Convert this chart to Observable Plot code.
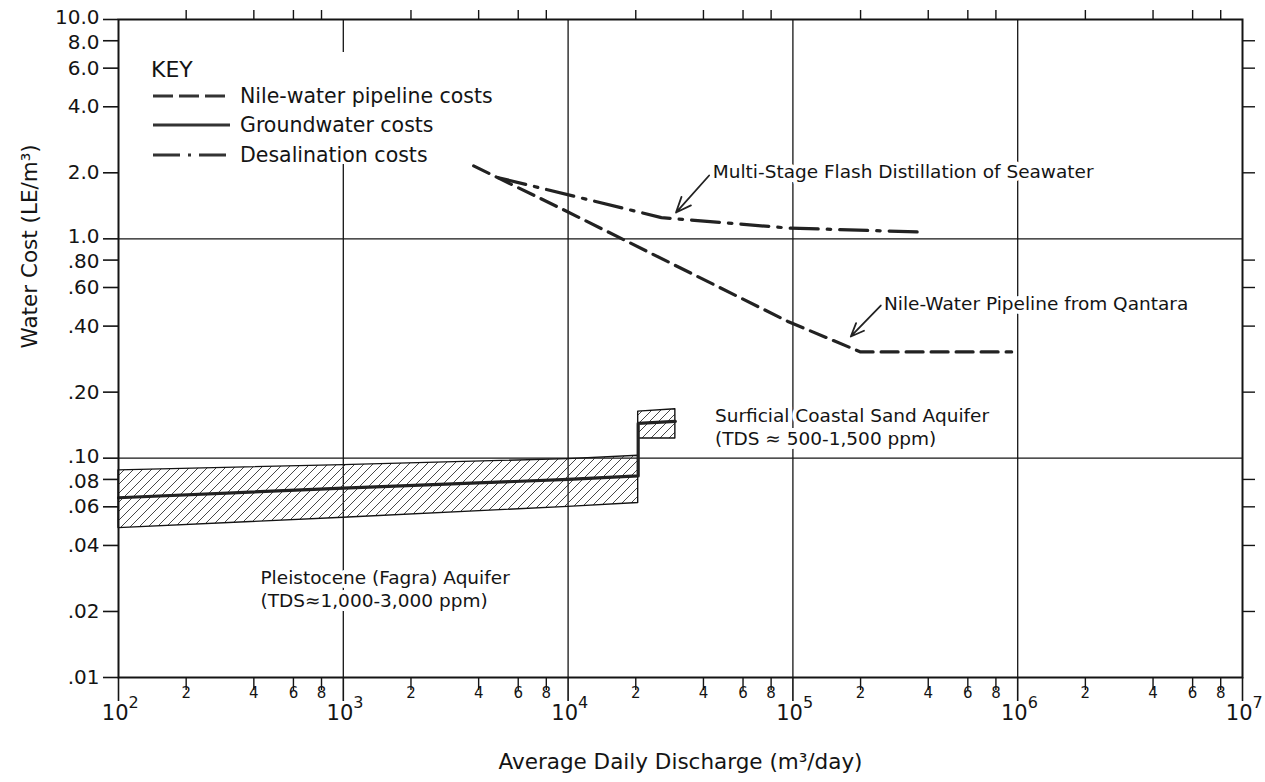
<!DOCTYPE html>
<html>
<head>
<meta charset="utf-8">
<script src="https://cdn.jsdelivr.net/npm/d3@7"></script>
<script src="https://cdn.jsdelivr.net/npm/@observablehq/plot@0.6"></script>
<style>
  html, body { margin: 0; padding: 0; background: #fff; }
  #wrap { position: relative; width: 1265px; height: 782px; font-family: "DejaVu Sans", sans-serif; }
</style>
</head>
<body>
<div id="wrap"></div>
<script>
// ---------- data ----------
const xDecades = [2, 3, 4, 5, 6, 7];              // 10^2 ... 10^7
const minorDigits = [2, 4, 6, 8];
const gridX = [1e3, 1e4, 1e5, 1e6];
const gridY = [1, 0.1];

const yTickValues = [10, 8, 6, 4, 2, 1, 0.8, 0.6, 0.4, 0.2, 0.1, 0.08, 0.06, 0.04, 0.02, 0.01];
const yTickLabels = ["10.0", "8.0", "6.0", "4.0", "2.0", "1.0", ".80", ".60", ".40", ".20", ".10", ".08", ".06", ".04", ".02", ".01"];

// Nile-water pipeline costs (dashed)
const nileX = [3800, 9500, 95000, 200000, 940000];
const nileY = [2.15, 1.36, 0.42, 0.305, 0.305];

// Desalination costs (dash-dot)
const desalX = [4900, 26000, 95000, 360000];
const desalY = [1.90, 1.25, 1.12, 1.075];

// Groundwater: Pleistocene (Fagra) aquifer band
const pleistoX = [100, 1000, 10000, 20500];
const pleistoLow = [0.048, 0.0535, 0.060, 0.0625];
const pleistoMid = [0.066, 0.073, 0.080, 0.083];
const pleistoHigh = [0.088, 0.093, 0.099, 0.1025];

// Groundwater: Surficial coastal sand aquifer band
const surfX = [20500, 30000];
const surfLow = [0.123, 0.123];
const surfMid = [0.144, 0.147];
const surfHigh = [0.163, 0.167];

// Annotations (data units)
const annoText = [
  "Multi-Stage Flash Distillation of Seawater",
  "Nile-Water Pipeline from Qantara",
  "Surficial Coastal Sand Aquifer\n(TDS \u2248 500-1,500 ppm)",
  "Pleistocene (Fagra) Aquifer\n(TDS\u22481,000-3,000 ppm)"
];
const annoX = [4.4e4, 2.54e5, 4.5e4, 428];
const annoY = [2.05, 0.513, 0.1394, 0.02546];

const arrowFrom = [[4.24e4, 1.944], [2.46e5, 0.4966]];
const arrowTo = [[3.02e4, 1.318], [1.81e5, 0.3587]];

const legendTitle = "KEY";
const legendLabels = ["Nile-water pipeline costs", "Groundwater costs", "Desalination costs"];

const xLabel = "Average Daily Discharge (m\u00B3/day)";
const yLabel = "Water Cost (LE/m\u00B3)";

// ---------- derived tables ----------
const nile = nileX.map((x, i) => ({x, y: nileY[i]}));
const desal = desalX.map((x, i) => ({x, y: desalY[i]}));
const pleisto = pleistoX.map((x, i) => ({x, lo: pleistoLow[i], hi: pleistoHigh[i]}));
const surf = surfX.map((x, i) => ({x, lo: surfLow[i], hi: surfHigh[i]}));
const groundMid = [
  ...pleistoX.map((x, i) => ({x, y: pleistoMid[i]})),
  ...surfX.map((x, i) => ({x, y: surfMid[i]}))
];
const annos = annoText.map((t, i) => ({text: t, x: annoX[i], y: annoY[i]}));
const arrows = arrowFrom.map((f, i) => ({x1: f[0], y1: f[1], x2: arrowTo[i][0], y2: arrowTo[i][1]}));

const yTicks = yTickValues.map((v, i) => ({v, label: yTickLabels[i]}));
const isTopOfDecade = v => [10, 1, 0.1].includes(v);
const isBelowDecade = v => [8, 0.8, 0.08].includes(v);
const yMinor = yTickValues.filter(v => ![10, 1, 0.1, 0.01].includes(v));
const minorTicks = xDecades.slice(0, -1).flatMap(e => minorDigits.map(d => ({v: d * 10 ** e, d: String(d)})));
const minorX = minorTicks.map(t => t.v);
const decades = xDecades.map(e => ({v: 10 ** e, e: String(e)}));

const ink = "#141414";
const font = '"DejaVu Sans", sans-serif';
const yLabelStyle = {y: "v", text: "label", frameAnchor: "left", dx: -19, textAnchor: "end", fontSize: 20, fill: ink};

const plot = Plot.plot({
  width: 1265,
  height: 782,
  marginLeft: 118,
  marginRight: 23,
  marginTop: 19,
  marginBottom: 105,
  style: {fontFamily: font, color: ink, background: "#fff"},
  x: {type: "log", domain: [1e2, 1e7], axis: null, label: null},
  y: {type: "log", domain: [0.01, 10], axis: null, label: null},
  marks: [
    Plot.ruleX(gridX, {stroke: ink, strokeWidth: 1.3}),
    Plot.ruleY(gridY, {stroke: ink, strokeWidth: 1.3}),
    Plot.areaY(pleisto, {x: "x", y1: "lo", y2: "hi", fill: "url(#hatch)", stroke: ink, strokeWidth: 1.4}),
    Plot.areaY(surf, {x: "x", y1: "lo", y2: "hi", fill: "url(#hatch)", stroke: ink, strokeWidth: 1.4}),
    Plot.line(groundMid, {x: "x", y: "y", stroke: "#222", strokeWidth: 3.2}),
    Plot.line(nile, {x: "x", y: "y", stroke: "#222", strokeWidth: 3.2, strokeDasharray: "17,8"}),
    Plot.line(desal, {x: "x", y: "y", stroke: "#222", strokeWidth: 3.2, strokeDasharray: "28,9,3.5,9"}),
    Plot.frame({stroke: ink, strokeWidth: 2}),
    // ticks
    Plot.axisY({ticks: yTickValues, tickSize: 15, tickFormat: () => "", strokeWidth: 1.6}),
    Plot.axisY({anchor: "right", ticks: yMinor, tickSize: 12, tickFormat: () => "", strokeWidth: 1.4}),
    Plot.axisX({anchor: "top", ticks: minorX, tickSize: 10, tickFormat: () => "", strokeWidth: 1.4}),
    Plot.axisX({anchor: "bottom", ticks: minorX, tickSize: 13, tickFormat: () => "", strokeWidth: 1.4}),
    Plot.axisX({anchor: "bottom", ticks: decades.map(d => d.v), tickSize: 24, tickFormat: () => "", strokeWidth: 1.6}),
    // tick labels (closely spaced pairs nudged apart slightly)
    Plot.text(yTicks.filter(t => isTopOfDecade(t.v)), {...yLabelStyle, dy: -2}),
    Plot.text(yTicks.filter(t => isBelowDecade(t.v)), {...yLabelStyle, dy: 2}),
    Plot.text(yTicks.filter(t => !isTopOfDecade(t.v) && !isBelowDecade(t.v)), yLabelStyle),
    Plot.text(minorTicks, {x: "v", frameAnchor: "bottom", text: "d", dy: 20, fontSize: 15, fill: ink}),
    Plot.text(decades, {x: "v", frameAnchor: "bottom", text: () => "10", textAnchor: "end", dx: 10, dy: 42, fontSize: 21, fill: ink}),
    Plot.text(decades, {x: "v", frameAnchor: "bottom", text: "e", textAnchor: "start", dx: 10, dy: 30, fontSize: 16, fill: ink}),
    // annotations
    Plot.text(annos, {x: "x", y: "y", text: "text", textAnchor: "start", lineAnchor: "middle", fontSize: 18.5, lineHeight: 1.25,
      fill: ink, stroke: "white", strokeWidth: 8, paintOrder: "stroke"}),
    Plot.arrow(arrows, {x1: "x1", y1: "y1", x2: "x2", y2: "y2", stroke: "#222", strokeWidth: 1.8, headLength: 14, headAngle: 45}),
    // axis titles
    Plot.text([yLabel], {text: d => d, frameAnchor: "left", dx: -88, rotate: -90, fontSize: 21.5, fill: ink}),
    Plot.text([xLabel], {text: d => d, frameAnchor: "bottom", dy: 91, fontSize: 21.5, fill: ink})
  ]
});

// hatch pattern for the aquifer bands
const ns = "http://www.w3.org/2000/svg";
const defs = document.createElementNS(ns, "defs");
defs.innerHTML = '<pattern id="hatch" patternUnits="userSpaceOnUse" width="9" height="9">' +
  '<path d="M-2,2 L2,-2 M0,9 L9,0 M7,11 L11,7" stroke="#333" stroke-width="0.9" fill="none"/></pattern>';
plot.insertBefore(defs, plot.firstChild);

const wrap = document.getElementById("wrap");
wrap.appendChild(plot);

// ---------- legend (KEY) inside the frame ----------
const dashes = ["20,6", null, "27,8,3,8"];
const lg = d3.select(wrap).append("svg")
  .attr("width", 380).attr("height", 120)
  .style("position", "absolute").style("left", "140px").style("top", "52px")
  .style("font-family", font);
lg.append("rect").attr("width", 328).attr("height", 112).attr("fill", "#fff");
lg.append("text").attr("x", 11).attr("y", 25).attr("font-size", 22).attr("fill", ink).text(legendTitle);
legendLabels.forEach((lab, i) => {
  const y = [44, 73, 103][i];
  lg.append("line").attr("x1", 13).attr("x2", 90).attr("y1", y).attr("y2", y)
    .attr("stroke", "#333").attr("stroke-width", 3.2)
    .attr("stroke-dasharray", dashes[i]);
  lg.append("text").attr("x", 100).attr("y", y).attr("dy", "0.36em").attr("font-size", 20.5).attr("fill", ink).text(lab);
});
</script>
</body>
</html>
